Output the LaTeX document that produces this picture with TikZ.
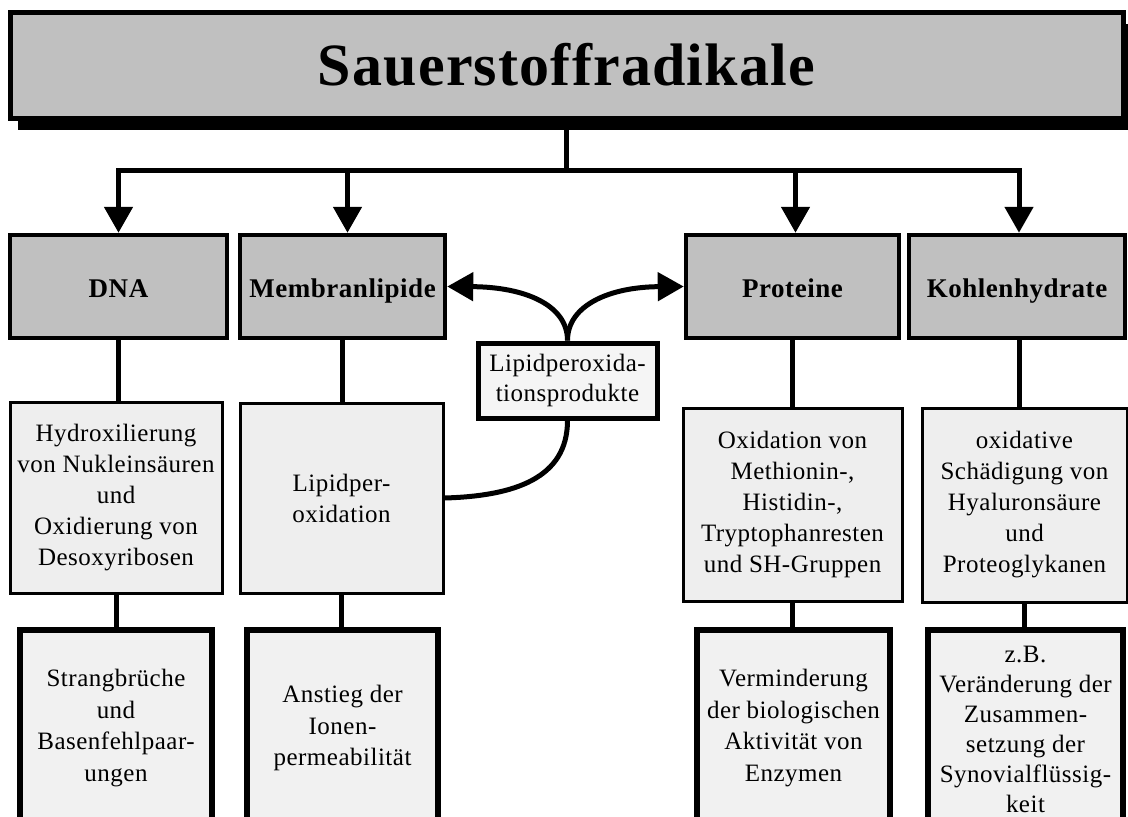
\documentclass[tikz,border=0pt]{standalone}
\usepackage{fontspec}
\setmainfont{Liberation Serif}
\newfontfamily\bodyf[LetterSpace=2]{Liberation Serif}
\newfontfamily\headf[LetterSpace=2]{Liberation Serif}
\usetikzlibrary{arrows.meta,shadows}
\definecolor{boxgray}{HTML}{C0C0C0}
\definecolor{midgray}{HTML}{EEEEEE}
\definecolor{lowgray}{HTML}{F1F1F1}
\definecolor{lipgray}{HTML}{F5F5F5}
\begin{document}
\begin{tikzpicture}[x=1pt,y=-1pt,
  titlebox/.style={draw, line width=5pt, fill=boxgray, minimum width=1113pt, minimum height=106pt,
    font=\headf\bfseries\fontsize{60}{60}\selectfont,
    drop shadow={shadow xshift=8pt, shadow yshift=-12pt, opacity=1, fill=black}},
  headbox/.style={draw, line width=4.5pt, fill=boxgray, minimum height=103pt,
    text height=22pt, text depth=0pt,
    font=\headf\bfseries\fontsize{27}{31}\selectfont},
  midbox/.style={draw, line width=3pt, fill=midgray, align=center,
    font=\bodyf\fontsize{25}{31}\selectfont},
  lowbox/.style={draw, line width=6pt, fill=lowgray, minimum height=196pt, anchor=north, align=center,
    font=\bodyf\fontsize{25}{31.5}\selectfont},
  liptext/.style={align=center, font=\bodyf\fontsize{25}{30}\selectfont},
  lipbox/.style={draw, line width=5pt, fill=lipgray, minimum width=179pt, minimum height=75pt, align=center,
    font=\bodyf\fontsize{25}{30}\selectfont},
  conn/.style={line width=5pt},
  arr/.style={conn, -{Triangle[length=26pt,width=28pt]}}
]
\useasboundingbox (0,0) rectangle (1128,817);
\clip (0,0) rectangle (1128,817);

% title
\node[titlebox] (title) at (566.5,65) {Sauerstoffradikale};

% first row
\node[headbox, minimum width=217pt] (dna1) at (118.5,286.5) {DNA};
\node[headbox, minimum width=205pt] (mem1) at (342.5,286.5) {Membranlipide};
\node[headbox, minimum width=213pt] (pro1) at (792.5,286.5) {Proteine};
\node[headbox, minimum width=216pt] (koh1) at (1017,286.5) {Kohlenhydrate};

% second row
\node[midbox, minimum width=212pt, minimum height=191pt] (dna2) at (116,497.5)
  {Hydroxilierung\\von Nukleinsäuren\\und\\Oxidierung von\\Desoxyribosen};
\node[midbox, minimum width=203pt, minimum height=190pt] (mem2) at (341.5,498)
  {Lipidper-\\oxidation};
\node[midbox, minimum width=219pt, minimum height=193pt] (pro2) at (792.5,504.5)
  {Oxidation von\\Methionin-,\\Histidin-,\\Tryptophanresten\\und SH-Gruppen};
\node[midbox, minimum width=205pt, minimum height=194pt] (koh2) at (1024.5,505)
  {oxidative\\Schädigung von\\Hyaluronsäure\\und\\Proteoglykanen};

% third row
\node[lowbox, minimum width=192pt] (dna3) at (116,627)
  {Strangbrüche\\und\\Basenfehlpaar-\\ungen};
\node[lowbox, minimum width=191pt] (mem3) at (342.5,627)
  {Anstieg der\\Ionen-\\permeabilität};
\node[lowbox, minimum width=193pt] (pro3) at (793.5,627)
  {Verminderung\\der biologischen\\Aktivität von\\Enzymen};
\node[lowbox, minimum width=195pt] (koh3) at (1025.5,627) {};
\node[liptext] (koh3t) at (1025.5,729)
  {z.B.\\Veränderung der\\Zusammen-\\setzung der\\Synovialflüssig-\\keit};

% middle box
\node[lipbox] (lip) at (567.5,380.5) {Lipidperoxida-\\tionsprodukte};

% connectors from title
\coordinate (bar) at (566.5,170);
\draw[conn] (title.south) -- (bar);
\draw[arr] (bar) -| (dna1.north);
\draw[arr] (bar) -| ([xshift=5pt]mem1.north);
\draw[arr] (bar) -| ([xshift=3pt]pro1.north);
\draw[arr] (bar) -| ([xshift=2pt]koh1.north);

% vertical connectors
\draw[conn] (dna1.south) -- (dna1.south |- dna2.north);
\draw[conn] (mem1.south) -- (mem1.south |- mem2.north);
\draw[conn] (pro1.south) -- (pro1.south |- pro2.north);
\draw[conn] ([xshift=2pt]koh1.south) -- ([xshift=2pt]koh1.south |- koh2.north);
\draw[conn] (dna2.south) -- (dna2.south |- dna3.north);
\draw[conn] (mem2.south) -- (mem2.south |- mem3.north);
\draw[conn] (pro2.south) -- (pro2.south |- pro3.north);
\draw[conn] (koh2.south) -- (koh2.south |- koh3.north);

% curved connectors
\draw[arr] (lip.north) .. controls (567.5,305) and (525,287) .. (mem1.east);
\draw[arr] (lip.north) .. controls (567.5,305) and (610,287) .. (pro1.west);
\draw[conn] (lip.south) .. controls (567.5,478) and (515,496) .. (mem2.east);
\end{tikzpicture}
\end{document}
